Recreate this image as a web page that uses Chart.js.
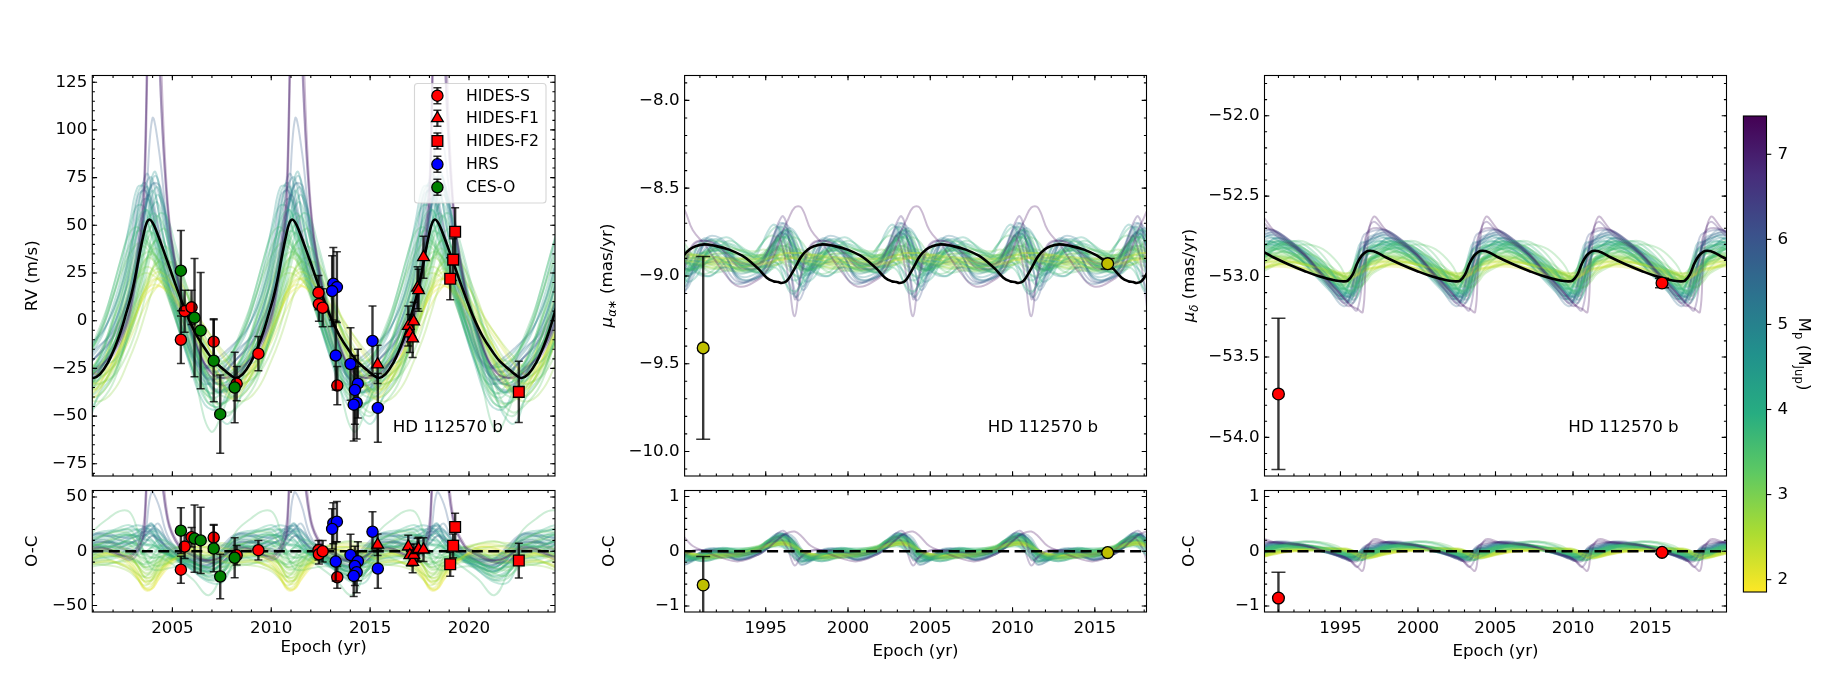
<!DOCTYPE html>
<html><head><meta charset="utf-8">
<style>html,body{margin:0;padding:0;background:#fff;width:1848px;height:680px;overflow:hidden}canvas{position:absolute}</style>
<script src="https://cdn.jsdelivr.net/npm/chart.js@4"></script>
</head><body>
<script>
// ---------- colour bar ----------
const cbMin = 1.855, cbMax = 7.45;
const cbTicks = [2, 3, 4, 5, 6, 7];
const viridisStops = ['#440154','#472d7b','#3b528b','#2c728e','#21918c','#27ad81','#5ec962','#aadc32','#fde725'];

// ---------- fan of posterior orbits: mass of each orbit and its small epoch offset ----------
const fanMass = [2.0,2.1,2.2,2.3,2.4,2.5,2.6,2.7,2.8,2.9,3.0,3.1,3.2,3.3,3.4,3.5,3.6,3.7,3.8,3.9,4.0,4.1,4.3,4.5,4.7,5.0,5.2,5.5,5.8,6.1,6.9,7.0,7.3,
  2.3,2.5,2.7,2.8,3.0,3.1,3.2,3.3,3.4,3.5,3.5,3.6,3.7,3.8,3.9,4.0,4.2,4.4,4.6,4.9,5.3,5.6];
const fanShift = [0.1,-0.2,0.3,-0.1,0.2,-0.3,0.1,0.4,-0.2,0,0.2,-0.4,0.3,-0.1,0.1,0,0.1,-0.3,0.2,-0.2,0.3,-0.1,0.1,-0.3,0.2,0,-0.2,0.1,0.05,-0.15,0,0,0,
  0.3,-0.3,0.2,0.4,-0.2,0.3,-0.4,0.2,0.35,-0.1,-0.35,0.25,0.4,-0.25,-0.4,0.3,0.25,-0.2,-0.35,0.2,0.1,-0.3];

// ---------- RV panel ----------
const rvPeak = 2003.84, rvPeriod = 7.22;
const rvModelPhase = [-2.84,-2.5,-2.1,-1.75,-1.43,-1.2,-0.93,-0.7,-0.5,-0.3,-0.15,0,0.15,0.35,0.67,0.93,1.18,1.6,1.9,2.4,2.96,3.3,3.8,4.1];
const rvModelValue = [-30,-28,-22,-14,-5,3,13,24,35,45,51,53,51.5,47,38,30.5,23,11,3,-8,-17,-21.5,-26,-28.5];
const rvFanPhase = [-2.84,-2.1,-1.5,-1.0,-0.6,-0.25,0.1,0.45,0.9,1.5,2.2,3.0,3.7];
const rvModelAtFanPhase = [-30,-22,-7,10,30,47.5,52,44.5,31,14,-4,-17.5,-25.5];
const rvFan = [
[-33,-24,-12,-1,8,14,17,18,15,8,-3,-16,-27],
[-38,-30,-18,-6,5,12,17,19,17,10,0,-14,-28],
[-28,-20,-8,3,12,19,22,22,18,10,-1,-13,-23],
[-41,-31,-19,-7,5,14,20,22,19,10,-3,-20,-35],
[-36,-25,-12,0,11,20,25,25,20,10,-3,-18,-30],
[-30,-21,-8,5,16,24,28,27,20,9,-5,-19,-27],
[-40,-32,-18,-4,9,20,26,27,21,10,-6,-23,-36],
[-33,-24,-10,4,17,27,31,29,22,9,-7,-21,-30],
[-37,-26,-12,3,17,28,33,31,23,9,-9,-25,-34],
[-27,-18,-4,10,22,31,35,32,23,9,-8,-21,-26],
[-35,-26,-11,5,21,33,38,34,24,8,-10,-28,-36],
[-42,-33,-17,1,19,33,39,35,24,7,-13,-33,-43],
[-31,-21,-5,12,27,38,42,37,25,8,-11,-27,-31],
[-25,-12,8,24,36,42,40,31,20,4,-14,-28,-29],
[-38,-27,-11,8,26,41,46,39,26,7,-14,-33,-40],
[-12,8,30,46,49,44,36,27,15,0,-19,-38,-32],
[-25,-18,-3,15,32,45,50,40,22,-2,-30,-58,-45],
[-29,-17,1,19,35,48,52,44,29,7,-17,-37,-40],
[-22,-10,8,25,42,54,56,45,28,7,-15,-32,-32],
[-36,-22,-4,17,37,53,58,47,28,5,-20,-41,-45],
[-26,-13,6,25,44,58,62,49,29,6,-18,-36,-36],
[-15,-3,12,30,50,63,63,48,26,4,-16,-30,-25],
[-33,-19,0,21,44,62,68,52,30,5,-21,-40,-43],
[-20,-8,9,28,50,68,72,55,30,6,-18,-33,-30],
[-28,-14,3,24,47,68,78,58,32,6,-19,-36,-37],
[-18,-8,6,24,48,70,75,58,33,9,-15,-30,-28],
[-23,-13,0,17,42,66,77,60,34,9,-15,-32,-32],
[-15,-8,3,18,40,62,72,70,40,12,-12,-26,-24],
[-20,-12,-2,12,30,60,106,88,46,14,-10,-26,-26],
[-22,-14,-4,10,30,55,66,55,35,10,-13,-30,-30],
[-30,-22,-12,2,28,72,280,150,60,18,-8,-28,-34],
[-26,-20,-10,6,35,80,250,150,62,18,-8,-26,-30],
[-28,-20,-10,4,32,66,240,175,66,20,-6,-26,-30],
[-29,-24,-14,-3,6,13,18,22,24,16,2,-11,-22],
[-36,-23,-7,7,17,23,25,24,20,12,0,-15,-29],
[-24,-14,-2,8,16,24,29,33,30,18,3,-9,-18],
[-42,-35,-22,-9,4,16,25,30,30,18,-2,-26,-40],
[-26,-12,4,16,26,33,36,35,28,16,3,-8,-20],
[-33,-29,-19,-6,9,24,34,39,34,17,-5,-26,-36],
[-20,-6,11,26,35,40,41,38,30,14,-2,-13,-20],
[-44,-34,-16,3,21,35,42,42,32,11,-14,-38,-48],
[-30,-23,-11,4,20,36,46,48,38,16,-8,-27,-36],
[-34,-20,0,19,33,44,47,42,30,10,-14,-42,-45],
[-18,-6,13,30,41,47,46,39,28,10,-8,-22,-24],
[-40,-30,-12,8,29,47,55,50,34,10,-18,-44,-50],
[-24,-20,-8,8,27,46,56,55,40,17,-7,-24,-29],
[-31,-15,6,26,43,55,58,48,30,9,-14,-35,-38],
[-20,-5,15,34,49,60,60,47,28,8,-11,-24,-24],
[-38,-28,-10,14,36,55,66,58,36,8,-22,-46,-54],
[-25,-17,-3,17,38,60,70,62,40,12,-14,-32,-32],
[-30,-18,0,22,45,66,70,54,30,4,-22,-44,-46],
[-16,-5,12,32,54,70,70,52,28,6,-14,-25,-22],
[-24,-14,0,18,40,65,76,64,38,9,-18,-36,-36],
[-28,-18,-6,10,34,62,72,64,42,13,-14,-34,-36],
[-14,-6,6,22,44,66,68,56,34,11,-12,-24,-20]];

const hidesSEpoch = [2005.43,2005.62,2005.97,2007.09,2008.25,2009.35,2012.39,2012.41,2012.6,2013.34];
const hidesSRv    = [-10,5,7,-11,-33,-17.3,14.7,8.7,6.8,-34];
const hidesSErr   = [12.5,11,9,12,9,9,9,9,10,10];
const hidesSOc    = [-17,4.3,13,12.6,-3.7,1,1,-2.8,0,-24];
const hidesF1Epoch = [2015.38,2016.93,2017.01,2017.15,2017.2,2017.4,2017.45,2017.7];
const hidesF1Rv    = [-22.9,-2.8,-6.7,-9.3,-0.4,17.3,16,33.3];
const hidesF1Err   = [10,10.5,10,10,10,11,11,11];
const hidesF1Oc    = [6,4.3,-3.7,-9.8,-3.4,1,2,1.5];
const hidesF2Epoch = [2019.05,2019.2,2019.3,2022.52];
const hidesF2Rv    = [22,32,46.6,-37.3];
const hidesF2Err   = [11,11,12.6,16];
const hidesF2Oc    = [-12,5,22.4,-8.6];
const hrsEpoch = [2013.14,2013.32,2013.08,2013.26,2014.01,2014.38,2014.23,2014.32,2014.17,2015.12,2015.39];
const hrsRv    = [19.4,17.6,15.5,-18.3,-22.7,-33,-36.3,-43,-44,-10.6,-45.7];
const hrsErr   = [19,18.5,18.5,18,19,18,18,19,19,18.3,18];
const hrsOc    = [25.8,27.3,20.6,-9.5,-3.4,-9.2,-13.5,-19.3,-22.7,18,-16];
const cesEpoch = [2005.43,2006.12,2006.43,2007.09,2007.42,2008.15];
const cesRv    = [26.2,1.6,-5.2,-21,-49,-35];
const cesErr   = [21,31,30.5,21.5,20.5,18.5];
const cesOc    = [19,11.7,10,2.5,-23.3,-6];

// ---------- proper motion in RA ----------
const raMin = 1995.96, raPeriod = 7.19;
const raModelPhase = [-1.75,-1.4,-0.9,-0.5,-0.2,0,0.3,0.6,0.9,1.2,1.6,2.0,2.5,3.2,4.0,4.8];
const raModelValue = [-8.93,-8.96,-9.01,-9.03,-9.035,-9.04,-9.03,-8.99,-8.94,-8.89,-8.85,-8.83,-8.82,-8.83,-8.85,-8.885];
const raFanPhase = [-1.4,-0.9,-0.5,-0.2,0.1,0.4,0.8,1.2,1.8,2.6,3.6,4.6];
const raModelAtFanPhase = [-8.96,-9.01,-9.03,-9.035,-9.035,-9.02,-8.97,-8.89,-8.835,-8.82,-8.845,-8.875];
const raFan = [
[-8.92,-8.92,-8.91,-8.90,-8.90,-8.90,-8.89,-8.89,-8.89,-8.90,-8.91,-8.92],
[-8.93,-8.93,-8.93,-8.92,-8.91,-8.91,-8.90,-8.90,-8.90,-8.91,-8.92,-8.93],
[-8.90,-8.89,-8.88,-8.87,-8.87,-8.87,-8.87,-8.88,-8.88,-8.89,-8.90,-8.90],
[-8.94,-8.93,-8.92,-8.91,-8.91,-8.90,-8.90,-8.91,-8.92,-8.93,-8.94,-8.95],
[-8.91,-8.90,-8.89,-8.88,-8.87,-8.87,-8.87,-8.87,-8.88,-8.89,-8.90,-8.92],
[-8.93,-8.92,-8.90,-8.89,-8.88,-8.88,-8.89,-8.90,-8.91,-8.92,-8.93,-8.94],
[-8.90,-8.88,-8.87,-8.86,-8.86,-8.87,-8.88,-8.89,-8.90,-8.91,-8.91,-8.91],
[-8.95,-8.94,-8.93,-8.92,-8.92,-8.92,-8.92,-8.93,-8.94,-8.95,-8.95,-8.96],
[-8.91,-8.89,-8.87,-8.86,-8.85,-8.85,-8.86,-8.87,-8.88,-8.89,-8.91,-8.93],
[-8.93,-8.91,-8.89,-8.87,-8.87,-8.88,-8.90,-8.92,-8.94,-8.93,-8.92,-8.94],
[-8.90,-8.87,-8.85,-8.84,-8.85,-8.87,-8.90,-8.93,-8.94,-8.92,-8.90,-8.90],
[-8.94,-8.92,-8.90,-8.89,-8.88,-8.88,-8.89,-8.90,-8.90,-8.89,-8.91,-8.95],
[-8.88,-8.85,-8.83,-8.83,-8.84,-8.86,-8.89,-8.91,-8.91,-8.88,-8.87,-8.88],
[-8.92,-8.89,-8.86,-8.84,-8.83,-8.83,-8.85,-8.87,-8.88,-8.87,-8.90,-8.96],
[-8.95,-8.93,-8.91,-8.90,-8.90,-8.91,-8.93,-8.95,-8.96,-8.94,-8.93,-8.97],
[-8.91,-8.86,-8.82,-8.79,-8.78,-8.79,-8.83,-8.87,-8.90,-8.86,-8.86,-8.93],
[-8.89,-8.85,-8.80,-8.77,-8.80,-8.85,-8.92,-8.96,-8.96,-8.92,-8.87,-8.88],
[-8.93,-8.90,-8.87,-8.85,-8.85,-8.87,-8.91,-8.95,-8.97,-8.93,-8.90,-8.95],
[-8.91,-8.85,-8.80,-8.78,-8.78,-8.81,-8.87,-8.92,-8.93,-8.87,-8.85,-8.92],
[-8.96,-8.94,-8.92,-8.92,-8.94,-8.97,-9.02,-9.02,-8.96,-8.90,-8.90,-8.96],
[-8.90,-8.83,-8.77,-8.75,-8.78,-8.84,-8.92,-8.97,-8.95,-8.86,-8.82,-8.87],
[-8.94,-8.90,-8.86,-8.84,-8.85,-8.90,-8.99,-9.05,-8.99,-8.88,-8.86,-8.93],
[-8.93,-8.87,-8.80,-8.76,-8.76,-8.80,-8.90,-8.99,-8.98,-8.87,-8.84,-8.93],
[-8.97,-8.94,-8.90,-8.88,-8.90,-8.96,-9.05,-9.12,-9.02,-8.88,-8.82,-8.90],
[-8.95,-8.90,-8.82,-8.76,-8.74,-8.78,-8.88,-8.98,-8.97,-8.85,-8.85,-8.97],
[-8.98,-8.92,-8.84,-8.78,-8.74,-8.75,-8.83,-8.93,-8.94,-8.82,-8.87,-9.00],
[-8.96,-8.89,-8.82,-8.75,-8.72,-8.74,-8.82,-8.92,-8.92,-8.79,-8.82,-8.98],
[-9.00,-8.96,-8.88,-8.80,-8.76,-8.80,-8.96,-9.08,-8.99,-8.83,-8.88,-9.02],
[-8.99,-8.93,-8.85,-8.78,-8.73,-8.74,-8.83,-8.95,-8.96,-8.80,-8.86,-9.03],
[-9.02,-8.97,-8.88,-8.80,-8.75,-8.82,-9.02,-9.14,-9.00,-8.82,-8.90,-9.03],
[-8.95,-8.88,-8.78,-8.70,-8.66,-8.75,-9.13,-9.00,-8.83,-8.80,-8.85,-8.95],
[-8.93,-8.87,-8.81,-8.77,-8.85,-9.00,-9.23,-8.98,-8.82,-8.80,-8.85,-8.92],
[-9.02,-8.97,-8.89,-8.82,-8.74,-8.68,-8.61,-8.61,-8.74,-8.83,-8.97,-9.06],
[-8.88,-8.89,-8.90,-8.90,-8.89,-8.88,-8.87,-8.88,-8.90,-8.92,-8.92,-8.90],
[-8.96,-8.95,-8.94,-8.92,-8.90,-8.89,-8.89,-8.90,-8.92,-8.94,-8.96,-8.97],
[-8.89,-8.87,-8.85,-8.85,-8.87,-8.89,-8.91,-8.92,-8.91,-8.88,-8.87,-8.88],
[-8.94,-8.94,-8.93,-8.90,-8.87,-8.85,-8.85,-8.87,-8.90,-8.94,-8.96,-8.95],
[-8.86,-8.85,-8.86,-8.88,-8.90,-8.93,-8.95,-8.95,-8.92,-8.87,-8.85,-8.85],
[-8.96,-8.93,-8.88,-8.84,-8.82,-8.83,-8.86,-8.90,-8.94,-8.96,-8.95,-8.97],
[-8.91,-8.88,-8.85,-8.83,-8.83,-8.85,-8.90,-8.94,-8.97,-8.95,-8.89,-8.90],
[-8.88,-8.83,-8.80,-8.80,-8.83,-8.87,-8.93,-8.96,-8.93,-8.85,-8.83,-8.86],
[-8.97,-8.96,-8.92,-8.86,-8.80,-8.78,-8.80,-8.85,-8.93,-8.98,-8.97,-8.98],
[-8.93,-8.91,-8.90,-8.90,-8.92,-8.95,-8.99,-9.00,-8.96,-8.88,-8.84,-8.89],
[-8.87,-8.82,-8.78,-8.77,-8.79,-8.84,-8.90,-8.93,-8.90,-8.82,-8.80,-8.84],
[-8.98,-8.94,-8.86,-8.80,-8.77,-8.78,-8.84,-8.91,-8.98,-8.98,-8.90,-8.95],
[-8.90,-8.84,-8.78,-8.74,-8.74,-8.78,-8.88,-8.95,-8.96,-8.88,-8.80,-8.85],
[-8.95,-8.95,-8.95,-8.95,-8.97,-9.02,-9.08,-9.08,-8.98,-8.87,-8.84,-8.90],
[-8.88,-8.83,-8.78,-8.74,-8.72,-8.74,-8.82,-8.90,-8.96,-8.92,-8.81,-8.82],
[-8.99,-8.96,-8.88,-8.80,-8.75,-8.75,-8.80,-8.88,-8.97,-9.00,-8.92,-8.95],
[-8.92,-8.86,-8.78,-8.72,-8.73,-8.80,-8.93,-9.03,-9.00,-8.84,-8.78,-8.85],
[-8.98,-8.96,-8.93,-8.92,-8.95,-9.03,-9.10,-9.08,-8.94,-8.80,-8.82,-8.92],
[-8.90,-8.83,-8.75,-8.71,-8.72,-8.78,-8.90,-9.00,-9.00,-8.84,-8.79,-8.86],
[-9.00,-8.96,-8.88,-8.80,-8.74,-8.73,-8.78,-8.88,-8.98,-9.00,-8.95,-9.02],
[-8.93,-8.85,-8.76,-8.70,-8.71,-8.80,-8.96,-9.06,-8.96,-8.78,-8.80,-8.94],
[-9.02,-8.98,-8.90,-8.82,-8.74,-8.70,-8.73,-8.84,-8.96,-8.94,-8.92,-9.04]];
const raEpoch = [1991.2,2015.78];
const raValue = [-9.41,-8.93];
const raErr = [0.52,0.03];
const raOc = [-0.616,-0.025];

// ---------- proper motion in Dec ----------
const decPeak = 1996.92, decPeriod = 7.25;
const decModelPhase = [0,0.43,1,2,3,4,5,5.5,5.8,6.1,6.4,6.7,7.0];
const decModelValue = [-52.84,-52.85,-52.88,-52.925,-52.965,-53.0,-53.025,-53.03,-53.025,-52.99,-52.92,-52.87,-52.845];
const decFanPhase = [0.2,1,2,3,4,5,5.6,6.0,6.4,6.77,7.0];
const decModelAtFanPhase = [-52.845,-52.88,-52.925,-52.965,-53.0,-53.025,-53.03,-53.0,-52.92,-52.865,-52.845];
const decFan = [
[-52.94,-52.92,-52.93,-52.95,-52.97,-52.99,-53.00,-53.00,-52.98,-52.96,-52.95],
[-52.96,-52.94,-52.94,-52.96,-52.98,-53.00,-53.01,-53.01,-53.00,-52.98,-52.97],
[-52.92,-52.90,-52.91,-52.93,-52.96,-52.98,-52.99,-52.98,-52.96,-52.94,-52.93],
[-52.95,-52.93,-52.93,-52.95,-52.98,-53.01,-53.02,-53.02,-53.00,-52.98,-52.96],
[-52.91,-52.90,-52.91,-52.93,-52.95,-52.97,-52.98,-52.97,-52.95,-52.93,-52.92],
[-52.93,-52.91,-52.92,-52.94,-52.97,-53.00,-53.02,-53.02,-52.99,-52.96,-52.94],
[-52.90,-52.88,-52.89,-52.92,-52.95,-52.98,-53.00,-52.99,-52.97,-52.93,-52.91],
[-52.94,-52.92,-52.91,-52.93,-52.96,-52.99,-53.02,-53.03,-53.01,-52.98,-52.96],
[-52.89,-52.87,-52.88,-52.91,-52.95,-52.99,-53.01,-53.01,-52.98,-52.93,-52.90],
[-52.92,-52.88,-52.88,-52.91,-52.95,-53.00,-53.03,-53.03,-53.00,-52.96,-52.93],
[-52.88,-52.86,-52.87,-52.90,-52.94,-52.98,-53.01,-53.02,-52.98,-52.93,-52.90],
[-52.93,-52.89,-52.87,-52.90,-52.95,-53.01,-53.05,-53.05,-53.02,-52.97,-52.94],
[-52.87,-52.85,-52.86,-52.90,-52.94,-52.99,-53.03,-53.03,-52.98,-52.92,-52.89],
[-52.90,-52.84,-52.82,-52.87,-52.93,-52.98,-53.00,-53.00,-52.98,-52.95,-52.92],
[-52.88,-52.85,-52.85,-52.89,-52.95,-53.02,-53.06,-53.06,-53.01,-52.94,-52.90],
[-52.84,-52.78,-52.80,-52.86,-52.93,-53.00,-53.02,-53.00,-52.93,-52.88,-52.86],
[-52.87,-52.83,-52.83,-52.88,-52.96,-53.04,-53.08,-53.08,-53.02,-52.94,-52.89],
[-52.85,-52.82,-52.84,-52.89,-52.95,-53.02,-53.07,-53.07,-53.00,-52.91,-52.87],
[-52.88,-52.83,-52.82,-52.86,-52.93,-53.03,-53.09,-53.10,-53.04,-52.95,-52.90],
[-52.83,-52.80,-52.84,-52.90,-52.97,-53.04,-53.08,-53.06,-52.98,-52.89,-52.85],
[-52.86,-52.81,-52.81,-52.86,-52.94,-53.04,-53.11,-53.10,-53.03,-52.93,-52.88],
[-52.82,-52.80,-52.83,-52.89,-52.96,-53.05,-53.10,-53.09,-53.00,-52.89,-52.84],
[-52.85,-52.80,-52.81,-52.87,-52.96,-53.06,-53.12,-53.11,-53.02,-52.91,-52.86],
[-52.80,-52.78,-52.82,-52.89,-52.98,-53.07,-53.12,-53.10,-52.99,-52.87,-52.82],
[-52.83,-52.78,-52.80,-52.86,-52.96,-53.07,-53.11,-53.09,-53.01,-52.89,-52.84],
[-52.78,-52.76,-52.81,-52.88,-52.97,-53.06,-53.12,-53.11,-52.99,-52.85,-52.80],
[-52.79,-52.74,-52.79,-52.86,-52.97,-53.08,-53.14,-53.12,-53.00,-52.86,-52.81],
[-52.76,-52.74,-52.80,-52.88,-52.98,-53.08,-53.13,-53.11,-52.96,-52.82,-52.78],
[-52.75,-52.72,-52.78,-52.86,-52.97,-53.08,-53.14,-53.14,-53.01,-52.85,-52.78],
[-52.72,-52.71,-52.77,-52.86,-52.97,-53.09,-53.16,-53.15,-53.00,-52.80,-52.74],
[-52.66,-52.73,-52.80,-52.87,-52.97,-53.07,-53.14,-53.18,-53.21,-53.00,-52.76],
[-52.70,-52.71,-52.77,-52.86,-52.98,-53.10,-53.17,-53.18,-53.10,-52.88,-52.74],
[-52.63,-52.71,-52.79,-52.86,-52.97,-53.08,-53.14,-53.18,-53.20,-53.22,-52.88],
[-52.90,-52.89,-52.91,-52.94,-52.97,-52.99,-53.00,-52.99,-52.96,-52.93,-52.91],
[-52.95,-52.94,-52.92,-52.92,-52.95,-52.99,-53.02,-53.02,-53.01,-52.99,-52.97],
[-52.88,-52.88,-52.90,-52.93,-52.96,-52.98,-52.98,-52.97,-52.94,-52.91,-52.89],
[-52.94,-52.90,-52.88,-52.90,-52.94,-53.00,-53.04,-53.04,-53.02,-52.99,-52.97],
[-52.86,-52.86,-52.90,-52.95,-52.99,-53.01,-53.01,-52.98,-52.94,-52.90,-52.87],
[-52.96,-52.92,-52.87,-52.86,-52.91,-52.98,-53.04,-53.07,-53.06,-53.02,-52.99],
[-52.85,-52.83,-52.84,-52.88,-52.94,-53.02,-53.05,-53.04,-52.97,-52.90,-52.87],
[-52.92,-52.86,-52.82,-52.80,-52.83,-52.92,-53.02,-53.06,-53.06,-53.02,-52.97],
[-52.84,-52.80,-52.80,-52.85,-52.93,-53.02,-53.06,-53.05,-52.98,-52.90,-52.87],
[-52.90,-52.84,-52.79,-52.78,-52.84,-52.96,-53.05,-53.09,-53.08,-53.02,-52.96],
[-52.82,-52.81,-52.85,-52.91,-52.98,-53.05,-53.08,-53.05,-52.96,-52.87,-52.84],
[-52.89,-52.82,-52.80,-52.84,-52.92,-53.03,-53.10,-53.12,-53.07,-52.98,-52.92],
[-52.80,-52.79,-52.84,-52.91,-53.00,-53.07,-53.09,-53.05,-52.94,-52.85,-52.81],
[-52.91,-52.83,-52.78,-52.79,-52.86,-52.97,-53.07,-53.10,-53.09,-53.02,-52.96],
[-52.82,-52.78,-52.81,-52.88,-52.98,-53.07,-53.12,-53.10,-52.99,-52.88,-52.83],
[-52.86,-52.80,-52.79,-52.85,-52.95,-53.06,-53.13,-53.14,-53.06,-52.95,-52.89],
[-52.80,-52.76,-52.80,-52.88,-52.99,-53.09,-53.13,-53.11,-52.99,-52.86,-52.81],
[-52.84,-52.79,-52.79,-52.85,-52.95,-53.06,-53.13,-53.15,-53.08,-52.94,-52.87],
[-52.78,-52.75,-52.80,-52.88,-52.99,-53.09,-53.14,-53.11,-52.98,-52.84,-52.79],
[-52.81,-52.76,-52.79,-52.86,-52.96,-53.08,-53.15,-53.16,-53.06,-52.90,-52.83],
[-52.74,-52.73,-52.79,-52.88,-52.99,-53.10,-53.16,-53.14,-52.98,-52.82,-52.76],
[-52.78,-52.71,-52.75,-52.84,-52.96,-53.09,-53.17,-53.18,-53.06,-52.88,-52.80]];
const decEpoch = [1991.0,2015.74];
const decValue = [-53.73,-53.04];
const decErr = [0.47,0.03];
const decOc = [-0.855,-0.02];

const legendNames = ['HIDES-S','HIDES-F1','HIDES-F2','HRS','CES-O'];
const targetName = 'HD 112570 b';

// ---------- helpers ----------
const FONT = '"DejaVu Sans"';
const FS = 16.7;
function hexToRgb(h){return [parseInt(h.slice(1,3),16),parseInt(h.slice(3,5),16),parseInt(h.slice(5,7),16)];}
function massColor(m,a){
  const t = 1-(m-cbMin)/(cbMax-cbMin);
  const f = Math.min(0.9999,Math.max(0,t))*(viridisStops.length-1), i=Math.floor(f), u=f-i;
  const c0=hexToRgb(viridisStops[i]), c1=hexToRgb(viridisStops[i+1]);
  const c=c0.map((v,k)=>Math.round(v+(c1[k]-v)*u));
  return `rgba(${c[0]},${c[1]},${c[2]},${a})`;
}
function periodic(phases,vals,anchor,P,xmin,xmax){
  const out=[];
  for(let n=-8;n<=8;n++){
    for(let i=0;i<phases.length;i++){
      const x=anchor+n*P+phases[i];
      if(x>xmin-P*0.7&&x<xmax+P*0.7) out.push({x,y:vals[i]});
    }
  }
  return out;
}
function pts(xs,ys,errs){return xs.map((x,i)=>({x,y:ys[i],err:errs[i]}));}
function mt(v){return String(v).replace('-','\u2212');}

function fanOrder(n){const o=[];for(let i=0;i<n;i++)o.push((i*14+5)%n);return o;}
function fanSets(phases,rows,anchor,P,xr,base){
  return fanOrder(rows.length).map((r,k)=>{
    const vals = base? rows[r].map((v,i)=>v-base[i]) : rows[r];
    const a0 = base? anchor : anchor+fanShift[r];
    return {data:periodic(phases,vals,a0,P,xr[0],xr[1]),borderColor:massColor(fanMass[r],0.28),borderWidth:2,
      pointRadius:0,tension:0.4,order:1000-k,fill:false};
  });
}
function modelSet(phases,vals,anchor,P,xr){
  return {data:periodic(phases,vals,anchor,P,xr[0],xr[1]),borderColor:'#000',borderWidth:2.6,pointRadius:0,tension:0.4,order:100,fill:false};
}
function zeroSet(xr){return {data:[{x:xr[0],y:0},{x:xr[1],y:0}],borderColor:'#000',borderWidth:2.6,borderDash:[11,5.5],pointRadius:0,order:100,fill:false};}
function markerSet(data,color,style,r,ord,cap){
  return {data,showLine:false,backgroundColor:color,pointBackgroundColor:color,pointBorderColor:'#000',pointBorderWidth:1.3,pointRadius:r,pointHoverRadius:r,pointStyle:style,order:ord,errCap:cap,hasErr:true,clip:false};
}
function richText(ctx,segs,cx,cy,rot){
  ctx.save();ctx.translate(cx,cy);ctx.rotate(rot);ctx.fillStyle='#000';ctx.textBaseline='alphabetic';ctx.textAlign='left';
  const fontOf=s=>`${s.it?'italic ':''}${s.sub?FS*0.7:FS}px ${FONT}`;
  let w=0;segs.forEach(s=>{ctx.font=fontOf(s);w+=ctx.measureText(s.t).width;});
  let x=-w/2;
  segs.forEach(s=>{ctx.font=fontOf(s);ctx.fillText(s.t,x,FS*0.36+(s.sub?FS*0.24:0));x+=ctx.measureText(s.t).width;});
  ctx.restore();
}
function noPad(s){s.paddingTop=s.paddingBottom=s.paddingLeft=s.paddingRight=0;s.getPadding=()=>({left:0,top:0,right:0,bottom:0});}

const panelPlugin={
  id:'panelPlugin',
  beforeDatasetDraw(chart,args){
    const ds=chart.data.datasets[args.index];
    if(!ds.hasErr) return;
    const {ctx,chartArea:a,scales:{x,y}}=chart;
    ctx.save();ctx.beginPath();ctx.rect(a.left,a.top,a.width,a.height);ctx.clip();
    ctx.strokeStyle='rgba(0,0,0,0.78)';
    ds.data.forEach(p=>{
      const px=x.getPixelForValue(p.x),y0=y.getPixelForValue(p.y-p.err),y1=y.getPixelForValue(p.y+p.err);
      ctx.lineWidth=2.4;ctx.beginPath();ctx.moveTo(px,y0);ctx.lineTo(px,y1);ctx.stroke();
      ctx.lineWidth=1.5;ctx.beginPath();ctx.moveTo(px-ds.errCap,y0);ctx.lineTo(px+ds.errCap,y0);ctx.moveTo(px-ds.errCap,y1);ctx.lineTo(px+ds.errCap,y1);ctx.stroke();
    });
    ctx.restore();
  },
  afterDraw(chart,args,o){
    const {ctx,chartArea:a,scales:{x,y}}=chart;
    ctx.save();ctx.strokeStyle='#000';ctx.lineWidth=1.1;
    const tick=(sc,v,len)=>{
      const p=sc.getPixelForValue(v);
      ctx.beginPath();
      if(sc===x){ctx.moveTo(p,a.bottom);ctx.lineTo(p,a.bottom-len);ctx.moveTo(p,a.top);ctx.lineTo(p,a.top+len);}
      else if(o.cbar){ctx.moveTo(a.right,p);ctx.lineTo(a.right+len,p);}
      else{ctx.moveTo(a.right,p);ctx.lineTo(a.right-len,p);ctx.moveTo(a.left,p);ctx.lineTo(a.left+len,p);}
      ctx.stroke();
    };
    const minorGrid=(sc,step)=>{if(!step)return;const s=Math.ceil(sc.min/step-1e-9);for(let i=s;i*step<=sc.max+1e-9;i++)tick(sc,i*step,2.6);};
    if(!o.cbar) minorGrid(x,o.xMinor);
    minorGrid(y,o.yMinor);
    if(!o.cbar) x.ticks.forEach(t=>tick(x,t.value,4.8));
    y.ticks.forEach(t=>tick(y,t.value,4.8));
    ctx.strokeRect(a.left,a.top,a.width,a.height);
    ctx.fillStyle='#000';ctx.textAlign='center';ctx.textBaseline='middle';ctx.font=`${FS}px ${FONT}`;
    if(o.note) ctx.fillText(targetName,o.note[0],o.note[1]+1);
    if(o.rich) richText(ctx,o.rich.segs,o.rich.x,o.rich.y,o.rich.rot);
    if(o.legend) drawLegend(ctx,o.legend);
    ctx.restore();
  }
};
function drawMark(ctx,st,x,y,r){
  ctx.beginPath();
  if(st==='circle')ctx.arc(x,y,r,0,Math.PI*2);
  else if(st==='rect'){const s=r/Math.SQRT2;ctx.rect(x-s,y-s,2*s,2*s);}
  else{ctx.moveTo(x,y-r);ctx.lineTo(x+r*0.866,y+r*0.5);ctx.lineTo(x-r*0.866,y+r*0.5);ctx.closePath();}
  ctx.fill();ctx.stroke();
}
function drawLegend(ctx,l){
  ctx.save();
  ctx.beginPath();ctx.roundRect(l.x,l.y,l.w,l.h,3);ctx.fillStyle='rgba(255,255,255,0.8)';ctx.fill();ctx.strokeStyle='rgba(204,204,204,0.8)';ctx.lineWidth=1.1;ctx.stroke();
  legendNames.forEach((n,i)=>{
    const yy=l.rows[i],xx=l.mx,m=l.marks[i];
    ctx.strokeStyle='rgba(0,0,0,0.78)';ctx.lineWidth=2.2;ctx.beginPath();ctx.moveTo(xx,yy-8);ctx.lineTo(xx,yy+8);ctx.stroke();
    ctx.lineWidth=1.4;ctx.beginPath();ctx.moveTo(xx-4,yy-8);ctx.lineTo(xx+4,yy-8);ctx.moveTo(xx-4,yy+8);ctx.lineTo(xx+4,yy+8);ctx.stroke();
    ctx.fillStyle=m[0];ctx.strokeStyle='#000';ctx.lineWidth=1.3;drawMark(ctx,m[1],xx,yy,m[2]);
    ctx.fillStyle='#000';ctx.textAlign='left';ctx.textBaseline='middle';ctx.font=`${FS*0.94}px ${FONT}`;ctx.fillText(n,l.tx,yy+1);
  });
  ctx.restore();
}

function makeCanvas(left,top,w,h){
  const c=document.createElement('canvas');c.width=w;c.height=h;
  c.style.left=left+'px';c.style.top=top+'px';c.style.width=w+'px';c.style.height=h+'px';
  document.body.appendChild(c);return c;
}
function panel(o){
  const c=makeCanvas(o.left,o.top,o.w,o.h);
  const tickFont={family:FONT,size:FS};
  return new Chart(c,{
    type:'line',
    data:{datasets:o.datasets},
    plugins:[panelPlugin],
    options:{
      responsive:false,animation:false,devicePixelRatio:1,
      elements:{line:{capBezierPoints:false}},
      layout:{autoPadding:false,padding:{left:0,right:o.w-o.ax1,top:o.ay0,bottom:0}},
      plugins:{legend:{display:false},tooltip:{enabled:false},title:{display:false},panelPlugin:o.deco},
      scales:{
        x:{type:'linear',min:o.xr[0],max:o.xr[1],grid:{display:false,drawTicks:false},border:{display:false},
           title:o.xTitle?{display:true,text:'Epoch (yr)',color:'#000',font:{family:FONT,size:FS},padding:{top:0,bottom:o.xTitle}}:{display:false},
           ticks:{stepSize:5,includeBounds:false,autoSkip:false,maxRotation:0,padding:7,color:'#000',font:tickFont,
                  callback:v=>o.xLabels?String(v):''},
           afterFit:s=>{s.height=o.h-o.ay1;noPad(s);}},
        y:{type:'linear',min:o.yr[0],max:o.yr[1],grid:{display:false,drawTicks:false},border:{display:false},
           title:o.yTitle?{display:true,text:o.yTitle,color:'#000',font:{family:FONT,size:FS},padding:{top:o.yTitlePad,bottom:0}}:{display:false},
           ticks:{stepSize:o.yStep,includeBounds:false,autoSkip:false,padding:5,color:'#000',font:tickFont,
                  callback:v=>mt(o.yFixed?Number(v).toFixed(o.yFixed):Math.round(v))},
           afterFit:s=>{s.width=o.ax0;noPad(s);}}
      }
    }
  });
}

// ---------- panels ----------
const rvX=[2000.95,2024.35], raX=[1990.07,2018.14], decX=[1990.1,2019.9];
const dataRv=[
 markerSet(pts(hidesSEpoch,hidesSRv,hidesSErr),'#ff0000','circle',5.6,50,4),
 markerSet(pts(hidesF1Epoch,hidesF1Rv,hidesF1Err),'#ff0000','triangle',6.8,40,4),
 markerSet(pts(hidesF2Epoch,hidesF2Rv,hidesF2Err),'#ff0000','rect',7.6,30,4),
 markerSet(pts(hrsEpoch,hrsRv,hrsErr),'#0000ff','circle',5.6,20,4),
 markerSet(pts(cesEpoch,cesRv,cesErr),'#008000','circle',5.6,10,4)];
const dataRvOc=[
 markerSet(pts(hidesSEpoch,hidesSOc,hidesSErr),'#ff0000','circle',5.6,50,4),
 markerSet(pts(hidesF1Epoch,hidesF1Oc,hidesF1Err),'#ff0000','triangle',6.8,40,4),
 markerSet(pts(hidesF2Epoch,hidesF2Oc,hidesF2Err),'#ff0000','rect',7.6,30,4),
 markerSet(pts(hrsEpoch,hrsOc,hrsErr),'#0000ff','circle',5.6,20,4),
 markerSet(pts(cesEpoch,cesOc,cesErr),'#008000','circle',5.6,10,4)];

panel({left:0,top:0,w:600,h:484,ax0:92.3,ax1:555,ay0:75.5,ay1:476,xr:rvX,yr:[-81.4,128.5],yStep:25,yTitle:'RV (m/s)',yTitlePad:23,
  datasets:[...fanSets(rvFanPhase,rvFan,rvPeak,rvPeriod,rvX),modelSet(rvModelPhase,rvModelValue,rvPeak,rvPeriod,rvX),...dataRv],
  deco:{xMinor:1,yMinor:5,note:[447.8,427],legend:{x:414.5,y:83.5,w:131.5,h:119.5,mx:437.4,tx:466,rows:[95.7,118.3,141,164.3,187.3],
    marks:[['#ff0000','circle',5.6],['#ff0000','triangle',6.8],['#ff0000','rect',7.6],['#0000ff','circle',5.6],['#008000','circle',5.6]]}}});
panel({left:0,top:484,w:600,h:196,ax0:92.3,ax1:555,ay0:6.5,ay1:128,xr:rvX,yr:[-56,56],yStep:50,yTitle:'O-C',yTitlePad:23,xLabels:true,xTitle:22,
  datasets:[...fanSets(rvFanPhase,rvFan,rvPeak,rvPeriod,rvX,rvModelAtFanPhase),zeroSet(rvX),...dataRvOc],
  deco:{xMinor:1,yMinor:10}});

panel({left:600,top:0,w:580,h:484,ax0:84.6,ax1:546.5,ay0:75.5,ay1:476,xr:raX,yr:[-10.14,-7.858],yStep:0.5,yFixed:1,
  datasets:[...fanSets(raFanPhase,raFan,raMin,raPeriod,raX),modelSet(raModelPhase,raModelValue,raMin,raPeriod,raX),markerSet(pts(raEpoch,raValue,raErr),'#bfbf00','circle',5.9,10,7)],
  deco:{xMinor:1,yMinor:0.1,note:[443,427],rich:{segs:[{t:'\u03bc',it:1},{t:'\u03b1',it:1,sub:1},{t:'\u2217',sub:1},{t:' (mas/yr)'}],x:6,y:275.5,rot:-Math.PI/2}}});
panel({left:600,top:484,w:580,h:196,ax0:84.6,ax1:546.5,ay0:6.5,ay1:128,xr:raX,yr:[-1.11,1.11],yStep:1,yTitle:'O-C',yTitlePad:0,xLabels:true,xTitle:18,
  datasets:[...fanSets(raFanPhase,raFan,raMin,raPeriod,raX,raModelAtFanPhase),zeroSet(raX),markerSet(pts(raEpoch,raOc,raErr),'#bfbf00','circle',5.9,10,7)],
  deco:{xMinor:1,yMinor:0.2}});

panel({left:1180,top:0,w:560,h:484,ax0:84.5,ax1:546.5,ay0:75.5,ay1:476,xr:decX,yr:[-54.24,-51.75],yStep:0.5,yFixed:1,
  datasets:[...fanSets(decFanPhase,decFan,decPeak,decPeriod,decX),modelSet(decModelPhase,decModelValue,decPeak,decPeriod,decX),markerSet(pts(decEpoch,decValue,decErr),'#ff0000','circle',5.9,10,7)],
  deco:{xMinor:1,yMinor:0.1,note:[443.5,427],rich:{segs:[{t:'\u03bc',it:1},{t:'\u03b4',it:1,sub:1},{t:' (mas/yr)'}],x:8,y:275.5,rot:-Math.PI/2}}});
panel({left:1180,top:484,w:560,h:196,ax0:84.5,ax1:546.5,ay0:6.5,ay1:128,xr:decX,yr:[-1.11,1.11],yStep:1,yTitle:'O-C',yTitlePad:0,xLabels:true,xTitle:18,
  datasets:[...fanSets(decFanPhase,decFan,decPeak,decPeriod,decX,decModelAtFanPhase),zeroSet(decX),markerSet(pts(decEpoch,decOc,decErr),'#ff0000','circle',5.9,10,7)],
  deco:{xMinor:1,yMinor:0.2}});

// ---------- colour bar ----------
(function(){
  const c=makeCanvas(1740,0,108,680);
  new Chart(c,{
    type:'bar',
    data:{labels:['M'],datasets:[{data:[[cbMin,cbMax]],barPercentage:1,categoryPercentage:1,borderWidth:0,
      backgroundColor:(ctx)=>{
        const ch=ctx.chart,a=ch.chartArea;if(!a)return '#888';
        const g=ch.ctx.createLinearGradient(0,a.bottom,0,a.top);
        viridisStops.slice().reverse().forEach((s,i)=>g.addColorStop(i/(viridisStops.length-1),s));
        return g;}}]},
    plugins:[panelPlugin],
    options:{
      responsive:false,animation:false,devicePixelRatio:1,
      layout:{autoPadding:false,padding:{left:3.4,top:116,bottom:680-592,right:0}},
      plugins:{legend:{display:false},tooltip:{enabled:false},
        panelPlugin:{cbar:true,yMinor:0,rich:{segs:[{t:'M'},{t:'p',sub:1},{t:' (M'},{t:'Jup',sub:1},{t:')'}],x:65.5,y:354,rot:Math.PI/2}}},
      scales:{
        x:{display:false,offset:true},
        y:{position:'right',min:cbMin,max:cbMax,grid:{display:false,drawTicks:false},border:{display:false},
           afterBuildTicks:s=>{s.ticks=cbTicks.map(v=>({value:v}));},
           ticks:{autoSkip:false,padding:11,color:'#000',font:{family:FONT,size:FS},callback:v=>String(v)},
           afterFit:s=>{s.width=108-26.5;}}
      }
    }
  });
})();
</script>
</body></html>
